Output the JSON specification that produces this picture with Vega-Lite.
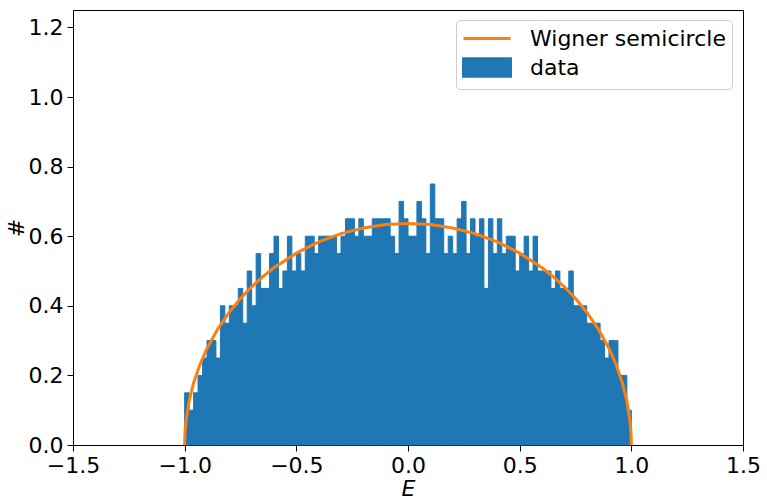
{
  "$schema": "https://vega.github.io/schema/vega-lite/v6.json",
  "width": 670,
  "height": 435,
  "autosize": {"type": "none"},
  "padding": {"left": 73, "top": 10, "right": 24, "bottom": 58},
  "background": "white",
  "config": {
    "font": "DejaVu Sans",
    "view": {"stroke": "black", "strokeWidth": 1},
    "axis": {
      "labelFont": "DejaVu Sans", "labelFontSize": 22, "labelColor": "black", "labelFlush": false, "labelOverlap": false,
      "titleFont": "DejaVu Sans", "titleFontSize": 22, "titleColor": "black", "titleFontWeight": "normal",
      "domainColor": "black", "tickColor": "black", "tickSize": 6, "tickWidth": 1, "grid": false, "labelPadding": 4
    },
    "legend": {
      "orient": "none", "legendX": 383, "legendY": 10,
      "labelFontSize": 22, "labelFont": "DejaVu Sans", "labelColor": "black", "labelLimit": 400,
      "strokeColor": "#cccccc", "fillColor": "rgba(255,255,255,0.8)",
      "padding": 6, "cornerRadius": 4, "rowPadding": 2,
      "symbolSize": 484, "labelOffset": 43
    }
  },
  "datasets": {
    "hist": [
      {"e0": -1.00, "e1": -0.98, "d": 0.15, "series": "data"},
      {"e0": -0.98, "e1": -0.96, "d": 0.10, "series": "data"},
      {"e0": -0.96, "e1": -0.94, "d": 0.15, "series": "data"},
      {"e0": -0.94, "e1": -0.92, "d": 0.20, "series": "data"},
      {"e0": -0.92, "e1": -0.90, "d": 0.25, "series": "data"},
      {"e0": -0.90, "e1": -0.88, "d": 0.30, "series": "data"},
      {"e0": -0.88, "e1": -0.86, "d": 0.30, "series": "data"},
      {"e0": -0.86, "e1": -0.84, "d": 0.25, "series": "data"},
      {"e0": -0.84, "e1": -0.82, "d": 0.40, "series": "data"},
      {"e0": -0.82, "e1": -0.80, "d": 0.35, "series": "data"},
      {"e0": -0.80, "e1": -0.78, "d": 0.40, "series": "data"},
      {"e0": -0.78, "e1": -0.76, "d": 0.40, "series": "data"},
      {"e0": -0.76, "e1": -0.74, "d": 0.45, "series": "data"},
      {"e0": -0.74, "e1": -0.72, "d": 0.35, "series": "data"},
      {"e0": -0.72, "e1": -0.70, "d": 0.50, "series": "data"},
      {"e0": -0.70, "e1": -0.68, "d": 0.40, "series": "data"},
      {"e0": -0.68, "e1": -0.66, "d": 0.55, "series": "data"},
      {"e0": -0.66, "e1": -0.64, "d": 0.45, "series": "data"},
      {"e0": -0.64, "e1": -0.62, "d": 0.45, "series": "data"},
      {"e0": -0.62, "e1": -0.60, "d": 0.55, "series": "data"},
      {"e0": -0.60, "e1": -0.58, "d": 0.60, "series": "data"},
      {"e0": -0.58, "e1": -0.56, "d": 0.45, "series": "data"},
      {"e0": -0.56, "e1": -0.54, "d": 0.50, "series": "data"},
      {"e0": -0.54, "e1": -0.52, "d": 0.60, "series": "data"},
      {"e0": -0.52, "e1": -0.50, "d": 0.50, "series": "data"},
      {"e0": -0.50, "e1": -0.48, "d": 0.55, "series": "data"},
      {"e0": -0.48, "e1": -0.46, "d": 0.50, "series": "data"},
      {"e0": -0.46, "e1": -0.44, "d": 0.60, "series": "data"},
      {"e0": -0.44, "e1": -0.42, "d": 0.60, "series": "data"},
      {"e0": -0.42, "e1": -0.40, "d": 0.55, "series": "data"},
      {"e0": -0.40, "e1": -0.38, "d": 0.60, "series": "data"},
      {"e0": -0.38, "e1": -0.36, "d": 0.60, "series": "data"},
      {"e0": -0.36, "e1": -0.34, "d": 0.60, "series": "data"},
      {"e0": -0.34, "e1": -0.32, "d": 0.60, "series": "data"},
      {"e0": -0.32, "e1": -0.30, "d": 0.55, "series": "data"},
      {"e0": -0.30, "e1": -0.28, "d": 0.60, "series": "data"},
      {"e0": -0.28, "e1": -0.26, "d": 0.65, "series": "data"},
      {"e0": -0.26, "e1": -0.24, "d": 0.65, "series": "data"},
      {"e0": -0.24, "e1": -0.22, "d": 0.60, "series": "data"},
      {"e0": -0.22, "e1": -0.20, "d": 0.65, "series": "data"},
      {"e0": -0.20, "e1": -0.18, "d": 0.60, "series": "data"},
      {"e0": -0.18, "e1": -0.16, "d": 0.60, "series": "data"},
      {"e0": -0.16, "e1": -0.14, "d": 0.65, "series": "data"},
      {"e0": -0.14, "e1": -0.12, "d": 0.65, "series": "data"},
      {"e0": -0.12, "e1": -0.10, "d": 0.65, "series": "data"},
      {"e0": -0.10, "e1": -0.08, "d": 0.65, "series": "data"},
      {"e0": -0.08, "e1": -0.06, "d": 0.60, "series": "data"},
      {"e0": -0.06, "e1": -0.04, "d": 0.55, "series": "data"},
      {"e0": -0.04, "e1": -0.02, "d": 0.70, "series": "data"},
      {"e0": -0.02, "e1": 0.00, "d": 0.65, "series": "data"},
      {"e0": 0.00, "e1": 0.02, "d": 0.60, "series": "data"},
      {"e0": 0.02, "e1": 0.04, "d": 0.60, "series": "data"},
      {"e0": 0.04, "e1": 0.06, "d": 0.70, "series": "data"},
      {"e0": 0.06, "e1": 0.08, "d": 0.65, "series": "data"},
      {"e0": 0.08, "e1": 0.10, "d": 0.55, "series": "data"},
      {"e0": 0.10, "e1": 0.12, "d": 0.75, "series": "data"},
      {"e0": 0.12, "e1": 0.14, "d": 0.65, "series": "data"},
      {"e0": 0.14, "e1": 0.16, "d": 0.65, "series": "data"},
      {"e0": 0.16, "e1": 0.18, "d": 0.55, "series": "data"},
      {"e0": 0.18, "e1": 0.20, "d": 0.60, "series": "data"},
      {"e0": 0.20, "e1": 0.22, "d": 0.55, "series": "data"},
      {"e0": 0.22, "e1": 0.24, "d": 0.65, "series": "data"},
      {"e0": 0.24, "e1": 0.26, "d": 0.70, "series": "data"},
      {"e0": 0.26, "e1": 0.28, "d": 0.55, "series": "data"},
      {"e0": 0.28, "e1": 0.30, "d": 0.65, "series": "data"},
      {"e0": 0.30, "e1": 0.32, "d": 0.60, "series": "data"},
      {"e0": 0.32, "e1": 0.34, "d": 0.65, "series": "data"},
      {"e0": 0.34, "e1": 0.36, "d": 0.45, "series": "data"},
      {"e0": 0.36, "e1": 0.38, "d": 0.65, "series": "data"},
      {"e0": 0.38, "e1": 0.40, "d": 0.55, "series": "data"},
      {"e0": 0.40, "e1": 0.42, "d": 0.65, "series": "data"},
      {"e0": 0.42, "e1": 0.44, "d": 0.55, "series": "data"},
      {"e0": 0.44, "e1": 0.46, "d": 0.60, "series": "data"},
      {"e0": 0.46, "e1": 0.48, "d": 0.60, "series": "data"},
      {"e0": 0.48, "e1": 0.50, "d": 0.50, "series": "data"},
      {"e0": 0.50, "e1": 0.52, "d": 0.55, "series": "data"},
      {"e0": 0.52, "e1": 0.54, "d": 0.60, "series": "data"},
      {"e0": 0.54, "e1": 0.56, "d": 0.50, "series": "data"},
      {"e0": 0.56, "e1": 0.58, "d": 0.60, "series": "data"},
      {"e0": 0.58, "e1": 0.60, "d": 0.50, "series": "data"},
      {"e0": 0.60, "e1": 0.62, "d": 0.50, "series": "data"},
      {"e0": 0.62, "e1": 0.64, "d": 0.50, "series": "data"},
      {"e0": 0.64, "e1": 0.66, "d": 0.45, "series": "data"},
      {"e0": 0.66, "e1": 0.68, "d": 0.50, "series": "data"},
      {"e0": 0.68, "e1": 0.70, "d": 0.45, "series": "data"},
      {"e0": 0.70, "e1": 0.72, "d": 0.45, "series": "data"},
      {"e0": 0.72, "e1": 0.74, "d": 0.50, "series": "data"},
      {"e0": 0.74, "e1": 0.76, "d": 0.40, "series": "data"},
      {"e0": 0.76, "e1": 0.78, "d": 0.40, "series": "data"},
      {"e0": 0.78, "e1": 0.80, "d": 0.40, "series": "data"},
      {"e0": 0.80, "e1": 0.82, "d": 0.35, "series": "data"},
      {"e0": 0.82, "e1": 0.84, "d": 0.35, "series": "data"},
      {"e0": 0.84, "e1": 0.86, "d": 0.35, "series": "data"},
      {"e0": 0.86, "e1": 0.88, "d": 0.30, "series": "data"},
      {"e0": 0.88, "e1": 0.90, "d": 0.25, "series": "data"},
      {"e0": 0.90, "e1": 0.92, "d": 0.30, "series": "data"},
      {"e0": 0.92, "e1": 0.94, "d": 0.30, "series": "data"},
      {"e0": 0.94, "e1": 0.96, "d": 0.20, "series": "data"},
      {"e0": 0.96, "e1": 0.98, "d": 0.20, "series": "data"},
      {"e0": 0.98, "e1": 1.00, "d": 0.10, "series": "data"}
    ],
    "curve": [
      {"x": -1.0, "y": 0.0, "series": "Wigner semicircle"},
      {"x": -0.999, "y": 0.0285, "series": "Wigner semicircle"},
      {"x": -0.995, "y": 0.0636, "series": "Wigner semicircle"},
      {"x": -0.98, "y": 0.1267, "series": "Wigner semicircle"},
      {"x": -0.96, "y": 0.1782, "series": "Wigner semicircle"},
      {"x": -0.93, "y": 0.2340, "series": "Wigner semicircle"},
      {"x": -0.9, "y": 0.2775, "series": "Wigner semicircle"},
      {"x": -0.85, "y": 0.3354, "series": "Wigner semicircle"},
      {"x": -0.8, "y": 0.3820, "series": "Wigner semicircle"},
      {"x": -0.75, "y": 0.4211, "series": "Wigner semicircle"},
      {"x": -0.7, "y": 0.4546, "series": "Wigner semicircle"},
      {"x": -0.65, "y": 0.4838, "series": "Wigner semicircle"},
      {"x": -0.6, "y": 0.5093, "series": "Wigner semicircle"},
      {"x": -0.5, "y": 0.5513, "series": "Wigner semicircle"},
      {"x": -0.4, "y": 0.5835, "series": "Wigner semicircle"},
      {"x": -0.3, "y": 0.6073, "series": "Wigner semicircle"},
      {"x": -0.2, "y": 0.6237, "series": "Wigner semicircle"},
      {"x": -0.1, "y": 0.6334, "series": "Wigner semicircle"},
      {"x": 0.0, "y": 0.6366, "series": "Wigner semicircle"},
      {"x": 0.1, "y": 0.6334, "series": "Wigner semicircle"},
      {"x": 0.2, "y": 0.6237, "series": "Wigner semicircle"},
      {"x": 0.3, "y": 0.6073, "series": "Wigner semicircle"},
      {"x": 0.4, "y": 0.5835, "series": "Wigner semicircle"},
      {"x": 0.5, "y": 0.5513, "series": "Wigner semicircle"},
      {"x": 0.6, "y": 0.5093, "series": "Wigner semicircle"},
      {"x": 0.65, "y": 0.4838, "series": "Wigner semicircle"},
      {"x": 0.7, "y": 0.4546, "series": "Wigner semicircle"},
      {"x": 0.75, "y": 0.4211, "series": "Wigner semicircle"},
      {"x": 0.8, "y": 0.3820, "series": "Wigner semicircle"},
      {"x": 0.85, "y": 0.3354, "series": "Wigner semicircle"},
      {"x": 0.9, "y": 0.2775, "series": "Wigner semicircle"},
      {"x": 0.93, "y": 0.2340, "series": "Wigner semicircle"},
      {"x": 0.96, "y": 0.1782, "series": "Wigner semicircle"},
      {"x": 0.98, "y": 0.1267, "series": "Wigner semicircle"},
      {"x": 0.995, "y": 0.0636, "series": "Wigner semicircle"},
      {"x": 0.999, "y": 0.0285, "series": "Wigner semicircle"},
      {"x": 1.0, "y": 0.0, "series": "Wigner semicircle"}
    ]
  },
  "layer": [
    {
      "data": {"name": "hist"},
      "mark": {"type": "bar", "opacity": 1, "orient": "vertical", "stroke": "#1f77b4", "strokeWidth": 1},
      "encoding": {
        "x": {"field": "e0", "type": "quantitative",
              "scale": {"domain": [-1.5, 1.5], "nice": false, "zero": false, "padding": 0},
              "axis": {"values": [-1.5, -1.0, -0.5, 0.0, 0.5, 1.0, 1.5], "format": ".1f", "title": "E", "titleFontStyle": "italic", "titlePadding": 2}},
        "x2": {"field": "e1"},
        "y": {"field": "d", "type": "quantitative",
              "scale": {"domain": [0, 1.25], "nice": false, "padding": 0},
              "axis": {"values": [0, 0.2, 0.4, 0.6, 0.8, 1.0, 1.2], "format": ".1f", "title": "#", "titlePadding": 0}},
        "y2": {"datum": 0},
        "color": {"field": "series", "type": "nominal",
                  "scale": {"domain": ["Wigner semicircle", "data"], "range": ["#ff7f0e", "#1f77b4"]},
                  "legend": {
                    "title": null,
                    "encode": {"symbols": {"update": {
                      "shape": {"signal": "datum.value === 'data' ? 'M-1,-0.8H3.27V0.8H-1Z' : 'M-1,0H3.27'"},
                      "fill": {"signal": "datum.value === 'data' ? '#1f77b4' : 'transparent'"},
                      "stroke": {"signal": "datum.value === 'data' ? 'transparent' : '#ff7f0e'"},
                      "strokeWidth": {"value": 3},
                      "opacity": {"value": 1}
                    }}}
                  }}
      }
    },
    {
      "data": {"name": "curve"},
      "mark": {"type": "line", "strokeWidth": 3, "interpolate": "linear"},
      "encoding": {
        "x": {"field": "x", "type": "quantitative"},
        "y": {"field": "y", "type": "quantitative"},
        "color": {"field": "series", "type": "nominal",
                  "legend": {
                    "title": null,
                    "encode": {"symbols": {"update": {
                      "shape": {"signal": "datum.value === 'data' ? 'M-1,-0.8H3.27V0.8H-1Z' : 'M-1,0H3.27'"},
                      "fill": {"signal": "datum.value === 'data' ? '#1f77b4' : 'transparent'"},
                      "stroke": {"signal": "datum.value === 'data' ? 'transparent' : '#ff7f0e'"},
                      "strokeWidth": {"value": 3},
                      "opacity": {"value": 1}
                    }}}
                  }}
      }
    }
  ]
}
